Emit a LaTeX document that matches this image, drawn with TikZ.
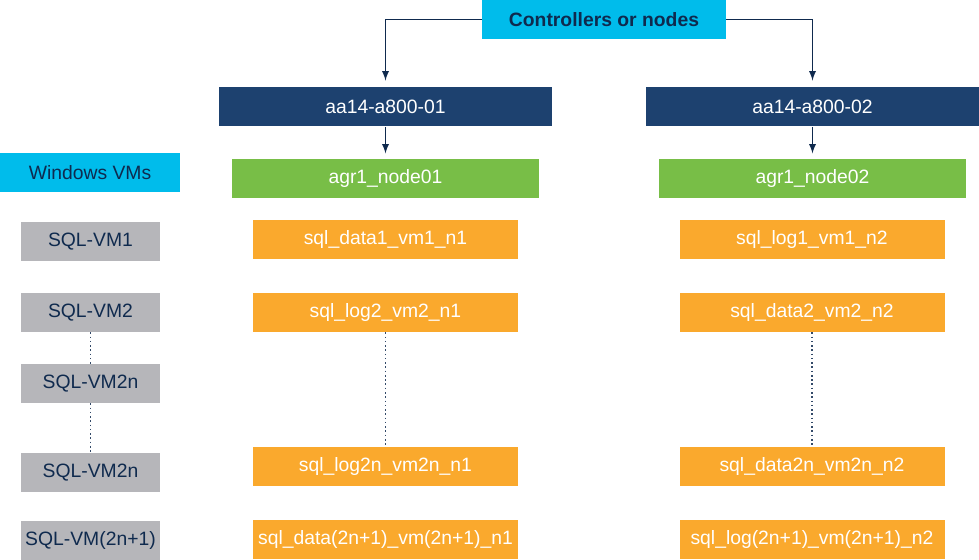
\documentclass[tikz,border=0pt]{standalone}
\usepackage{fontspec}
\setmainfont{Liberation Sans}
\usetikzlibrary{calc}
\definecolor{ccyan}{HTML}{00BCEB}
\definecolor{cnavy}{HTML}{1D416F}
\definecolor{cgreen}{HTML}{78BE47}
\definecolor{corange}{HTML}{FAA92D}
\definecolor{cgray}{HTML}{B6B6BA}
\definecolor{cink}{HTML}{0F2A4E}

\begin{document}
\begin{tikzpicture}[x=0.75pt,y=-0.75pt,
    box/.style={inner sep=0pt, minimum height=29.25pt, font=\fontsize{14.5}{16}\selectfont},
    ctrlbox/.style={box, fill=ccyan, text=cink, minimum width=183pt, font=\fontsize{14.5}{16}\selectfont\bfseries},
    hostbox/.style={box, fill=cnavy, text=white, minimum width=249.75pt},
    aggrbox/.style={box, fill=cgreen, text=white, minimum width=230.25pt},
    volbox/.style={box, fill=corange, text=white, minimum width=198.75pt},
    hdrbox/.style={box, fill=ccyan, text=cink, minimum width=135pt},
    vmbox/.style={box, fill=cgray, text=cink, minimum width=104.25pt},
    link/.style={draw=cink, line width=1.4pt, -latex},
    gap/.style={draw=cink!85, line width=1.2pt, dotted}]
    \useasboundingbox (0,0) rectangle (979,560);
    \node[ctrlbox] at (604,19.5) (ctrl) {Controllers or nodes};
    \node[hostbox] at (385.5,107) (h1) {aa14-a800-01};
    \node[hostbox] at (812.5,107) (h2) {aa14-a800-02};
    \node[hdrbox] at (90,172.5) (win) {Windows VMs};
    \node[aggrbox] at (385.5,178.5) (ag1) {agr1\_node01};
    \node[aggrbox] at (812.5,178.5) (ag2) {agr1\_node02};
    % virtual machines
    \node[vmbox] at (90.5,241.5) (vm1) {SQL-VM1};
    \node[vmbox] at (90.5,312.5) (vm2) {SQL-VM2};
    \node[vmbox] at (90.5,383.5) (vmk) {SQL-VM2n};
    \node[vmbox] at (90.5,472.5) (vmn) {SQL-VM2n};
    \node[vmbox] at (90.5,540) (vml) {SQL-VM(2n+1)};
    % volumes on node01
    \node[volbox] at (385.5,239.5) (a1) {sql\_data1\_vm1\_n1};
    \node[volbox] at (385.5,312.5) (a2) {sql\_log2\_vm2\_n1};
    \node[volbox] at (385.5,466) (an) {sql\_log2n\_vm2n\_n1};
    \node[volbox] at (385.5,539) (al) {sql\_data(2n+1)\_vm(2n+1)\_n1};
    % volumes on node02
    \node[volbox] at (812,239.5) (b1) {sql\_log1\_vm1\_n2};
    \node[volbox] at (812,312.5) (b2) {sql\_data2\_vm2\_n2};
    \node[volbox] at (812,466) (bn) {sql\_data2n\_vm2n\_n2};
    \node[volbox] at (812,539) (bl) {sql\_log(2n+1)\_vm(2n+1)\_n2};
    \draw[link, shorten >=5pt] (ctrl.west) -| (h1.north);
    \draw[link, shorten >=5pt] (ctrl.east) -| (h2.north);
    \draw[link, shorten >=4pt] (h1.south) -- (ag1.north);
    \draw[link, shorten >=4pt] (h2.south) -- (ag2.north);
    \draw[gap] (vm2.south) -- (vmk.north);
    \draw[gap] (vmk.south) -- (vmn.north);
    \draw[gap] (a2.south) -- (an.north);
    \draw[gap] (b2.south) -- (bn.north);
\end{tikzpicture}
\end{document}
